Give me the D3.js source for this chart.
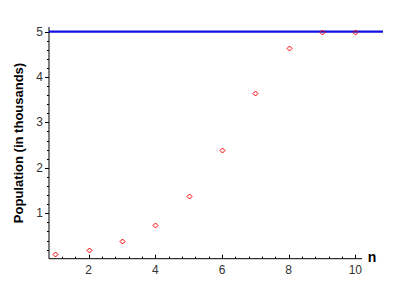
<!DOCTYPE html>
<html>
<head>
<meta charset="utf-8">
<script src="https://cdn.jsdelivr.net/npm/d3@7"></script>
<style>
  body { margin: 0; background: #fff; }
  text { font-family: "Liberation Sans", Arial, sans-serif; }
</style>
</head>
<body>
<div id="chart"></div>
<script>
const nValues = [1, 2, 3, 4, 5, 6, 7, 8, 9, 10];
const population = [0.1, 0.19, 0.38, 0.74, 1.37, 2.39, 3.64, 4.63, 4.98, 5.0];
const carryingCapacity = 5;
const xTicks = [2, 4, 6, 8, 10];
const yTicks = [1, 2, 3, 4, 5];

const width = 400, height = 300;
const svg = d3.select("#chart").append("svg")
    .attr("width", width)
    .attr("height", height);

const x = d3.scaleLinear().domain([0.81, 10.2]).range([49, 362]);
const y = d3.scaleLinear().domain([0, 5.1]).range([258.7, 27]);

// minor ticks
const xMinor = d3.range(0.8, 10.2, 0.4).filter(v => v >= 0.81 && v <= 10.2);
const yMinor = d3.range(0.2, 5.1, 0.2);

const xAxis = svg.append("g").attr("transform", `translate(0,${y(0)})`);
xAxis.append("line")
    .attr("x1", x.range()[0]).attr("x2", x.range()[1])
    .attr("stroke", "#000");
xAxis.selectAll(".minor").data(xMinor).enter().append("line")
    .attr("x1", d => Math.round(x(d)) + 0.5).attr("x2", d => Math.round(x(d)) + 0.5)
    .attr("y1", 0).attr("y2", -2)
    .attr("stroke", "#000");
xAxis.selectAll(".major").data(xTicks).enter().append("line")
    .attr("x1", d => Math.round(x(d)) + 0.5).attr("x2", d => Math.round(x(d)) + 0.5)
    .attr("y1", 0).attr("y2", -4)
    .attr("stroke", "#000");
xAxis.selectAll("text").data(xTicks).enter().append("text")
    .attr("x", d => x(d))
    .attr("y", 15)
    .attr("text-anchor", "middle")
    .style("font-size", "12px")
    .style("fill", "#333")
    .text(d => d);

const yAxis = svg.append("g").attr("transform", `translate(${x.range()[0]},0)`);
yAxis.append("line")
    .attr("y1", y.range()[0]).attr("y2", y.range()[1])
    .attr("stroke", "#000");
yAxis.selectAll(".minor").data(yMinor).enter().append("line")
    .attr("y1", d => Math.round(y(d)) + 0.5).attr("y2", d => Math.round(y(d)) + 0.5)
    .attr("x1", 0).attr("x2", -2)
    .attr("stroke", "#000");
yAxis.selectAll(".major").data(yTicks).enter().append("line")
    .attr("y1", d => Math.round(y(d)) + 0.5).attr("y2", d => Math.round(y(d)) + 0.5)
    .attr("x1", 0).attr("x2", -4)
    .attr("stroke", "#000");
yAxis.selectAll("text").data(yTicks).enter().append("text")
    .attr("x", -6)
    .attr("y", d => y(d) + 4)
    .attr("text-anchor", "end")
    .style("font-size", "12px")
    .style("fill", "#333")
    .text(d => d);

// carrying capacity line
svg.append("line")
    .attr("x1", x.range()[0]).attr("x2", 383)
    .attr("y1", y(carryingCapacity)).attr("y2", y(carryingCapacity))
    .attr("stroke", "#1010e0")
    .attr("stroke-width", 2.2);

// points as diamonds
svg.selectAll(".pt")
    .data(nValues.map((n, i) => ({ n: n, p: population[i] })))
    .enter()
    .append("path")
    .attr("d", d => {
        const cx = Math.round(x(d.n)) + 0.5, cy = Math.round(y(d.p)) + 0.5, r = 2.5;
        return `M${cx},${cy - r}L${cx + r},${cy}L${cx},${cy + r}L${cx - r},${cy}Z`;
    })
    .attr("fill", "none")
    .attr("stroke", "#ff0000")
    .attr("stroke-width", 1);

// axis titles
svg.append("text")
    .attr("x", 372)
    .attr("y", 262)
    .attr("text-anchor", "middle")
    .style("font-size", "14px")
    .style("font-weight", "bold")
    .text("n");

svg.append("text")
    .attr("transform", "translate(23,143) rotate(-90)")
    .attr("text-anchor", "middle")
    .style("font-size", "13px")
    .style("font-weight", "bold")
    .text("Population (in thousands)");
</script>
</body>
</html>
